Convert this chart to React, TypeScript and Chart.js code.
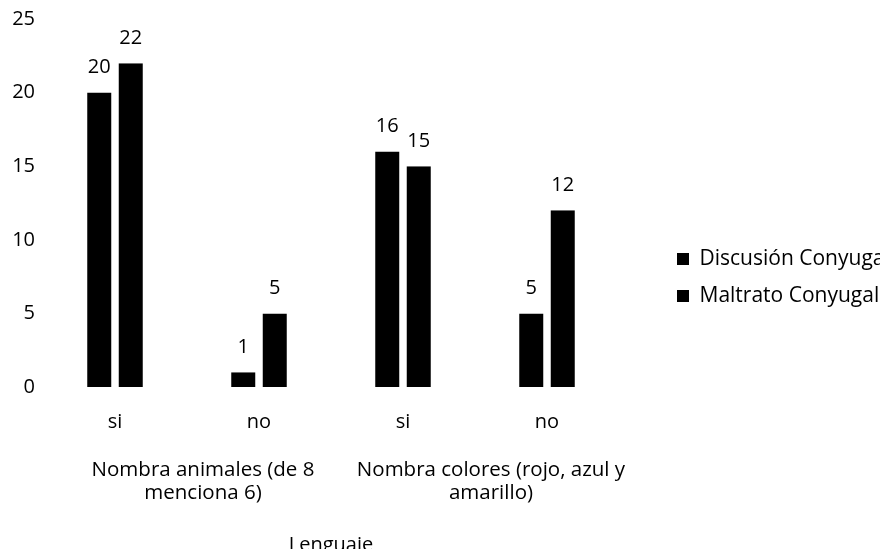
import React, { useEffect, useRef } from "react";
import { Chart, registerables } from "chart.js";

Chart.register(...registerables);

const categories = ["si", "no", "si", "no"];
const groupLabels = [
  ["Nombra animales (de 8", "menciona 6)"],
  ["Nombra colores (rojo, azul y", "amarillo)"],
];
const seriesNames = ["Discusión Conyugal", "Maltrato Conyugal"];
const discusion = [20, 1, 16, 5];
const maltrato = [22, 5, 15, 12];
const yTicks = [0, 5, 10, 15, 20, 25];
const axisTitle = "Lenguaje";

const FONT = "'Open Sans'";

const valueLabels = {
  id: "valueLabels",
  afterDatasetsDraw(chart: any) {
    const ctx = chart.ctx;
    ctx.save();
    ctx.font = `20px ${FONT}`;
    ctx.fillStyle = "#000";
    ctx.textAlign = "center";
    ctx.textBaseline = "middle";
    chart.data.datasets.forEach((ds: any, i: number) => {
      const meta = chart.getDatasetMeta(i);
      meta.data.forEach((el: any, j: number) => {
        ctx.fillText(String(ds.data[j]), el.x, el.y - 25);
      });
    });
    ctx.restore();
  },
};

export default function App() {
  const ref = useRef<HTMLCanvasElement>(null);
  useEffect(() => {
    if (!ref.current) return;
    const barStyle = {
      backgroundColor: "#000",
      borderColor: "rgba(0,0,0,0)",
      borderWidth: { left: 3.75, right: 3.75, top: 0, bottom: 0 },
      borderSkipped: "start",
      categoryPercentage: 0.4375,
      barPercentage: 1,
    };
    const chart = new Chart(ref.current, {
      type: "bar",
      data: {
        labels: categories,
        datasets: [
          { label: seriesNames[0], data: discusion, ...barStyle },
          { label: seriesNames[1], data: maltrato, ...barStyle },
        ] as any,
      },
      plugins: [valueLabels],
      options: {
        responsive: false,
        animation: false,
        events: [],
        layout: { padding: { top: 0, left: 0, right: 0, bottom: 10 } },
        font: { family: FONT, size: 20 },
        color: "#000",
        plugins: {
          tooltip: { enabled: false },
          legend: {
            position: "right",
            align: "center",
            maxWidth: 227,
            labels: {
              boxWidth: 12,
              boxHeight: 12,
              padding: 16,
              color: "#000",
              font: { family: FONT, size: 21 },
            },
          },
        },
        scales: {
          x: {
            grid: { display: false, drawTicks: false },
            border: { display: false },
            ticks: {
              color: "#000",
              font: { family: FONT, size: 20 },
              padding: 23,
              maxRotation: 0,
              autoSkip: false,
            },
            afterFit: (s: any) => {
              s.height = 47;
            },
          },
          x2: {
            type: "category",
            labels: groupLabels as any,
            position: "bottom",
            offset: true,
            grid: { display: false, drawTicks: false },
            border: { display: false },
            ticks: {
              color: "#000",
              font: { family: FONT, size: 20.5, lineHeight: 1.12 },
              padding: 24.5,
              labelOffset: 16,
              maxRotation: 0,
              autoSkip: false,
            },
            title: {
              display: true,
              text: axisTitle,
              color: "#000",
              font: { family: FONT, size: 20 },
              padding: { top: 20, bottom: -10 },
            },
            afterFit: (s: any) => {
              s.height = 113;
            },
          },
          y: {
            min: yTicks[0],
            max: yTicks[yTicks.length - 1],
            grid: { display: false, drawTicks: false },
            border: { display: false },
            afterBuildTicks: (s: any) => {
              s.ticks = yTicks.map((v) => ({ value: v }));
            },
            afterFit: (s: any) => {
              s.width = 35;
              s.paddingTop = 11;
              s.paddingBottom = 11;
            },
            ticks: {
              color: "#000",
              font: { family: FONT, size: 20 },
              padding: 8,
            },
          },
          y2: {
            position: "right",
            display: true,
            grid: { display: false, drawTicks: false },
            border: { display: false },
            ticks: { display: false },
            afterFit: (s: any) => {
              s.width = 42;
              s.paddingTop = 0;
              s.paddingBottom = 0;
            },
          },
        },
      } as any,
    });
    return () => chart.destroy();
  }, []);
  return (
    <div style={{ width: 880, height: 549, marginBottom: -8, overflow: "hidden" }}>
      <canvas ref={ref} width={880} height={549} style={{ display: "block" }} />
    </div>
  );
}
